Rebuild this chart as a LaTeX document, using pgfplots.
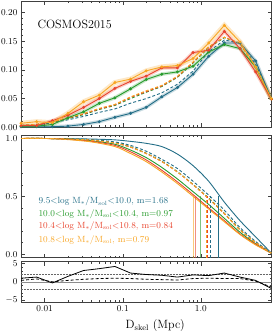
\documentclass[border=0pt]{standalone}
\usepackage{pgfplots}
\pgfplotsset{compat=1.18}
\definecolor{cteal}{RGB}{35,110,135}
\definecolor{cgreen}{RGB}{40,155,45}
\definecolor{cred}{RGB}{232,68,45}
\definecolor{corange}{RGB}{248,165,35}

\pgfplotstableread{
x        teal    green   red     orange  dteal  dgreen dred   dorange
0.005012 0.001   0.002   0.003   0.007   0.002  0.003  0.003  0.003
0.007943 0.001   0.002   0.003   0.0098  0.004  0.005  0.005  0.005
0.012589 0.001   0.005   0.0115  0.008   0.008  0.009  0.0095 0.010
0.019953 0.002   0.0167  0.021   0.0243  0.013  0.015  0.016  0.0167
0.031623 0.005   0.027   0.0347  0.0445  0.019  0.022  0.023  0.024
0.050119 0.0098  0.0417  0.050   0.056   0.026  0.031  0.032  0.033
0.079433 0.0174  0.0514  0.0677  0.078   0.032  0.038  0.039  0.040
0.125893 0.0243  0.0670  0.080   0.0839  0.042  0.050  0.052  0.053
0.199526 0.0347  0.0833  0.0891  0.0983  0.050  0.061  0.062  0.0636
0.316228 0.0531  0.0925  0.1035  0.1052  0.060  0.071  0.072  0.073
0.501187 0.0694  0.0965  0.1035  0.1076  0.075  0.087  0.088  0.089
0.794328 0.0925  0.1064  0.1302  0.1198  0.098  0.112  0.113  0.114
1.258925 0.1238  0.1312  0.1342  0.1469  0.132  0.139  0.140  0.140
1.995262 0.1469  0.1441  0.1672  0.1776  0.152  0.156  0.157  0.157
3.162278 0.1469  0.1371  0.1371  0.1486  0.147  0.146  0.146  0.146
5.011872 0.1156  0.1052  0.0965  0.1052  0.110  0.106  0.105  0.105
7.943282 0.0503  0.0491  0.0491  0.0503  0.050  0.050  0.050  0.050
}\toptab

\pgfplotstableread{
x        teal   green  red    orange dteal  dgreen dred   dorange
0.005012 1.000  1.000  1.000  1.000  1.000  1.000  1.000  1.000
0.010000 1.000  1.000  1.000  1.000  1.000  1.000  1.000  1.000
0.019953 0.998  0.995  0.993  0.990  0.997  0.996  0.995  0.995
0.039811 0.995  0.980  0.975  0.970  0.990  0.986  0.985  0.985
0.079433 0.988  0.950  0.940  0.930  0.970  0.962  0.960  0.960
0.125893 0.975  0.900  0.885  0.870  0.940  0.928  0.925  0.925
0.199526 0.958  0.835  0.815  0.800  0.890  0.873  0.870  0.870
0.316228 0.930  0.750  0.725  0.710  0.820  0.803  0.800  0.800
0.501187 0.865  0.650  0.625  0.610  0.740  0.713  0.710  0.710
0.794328 0.765  0.540  0.515  0.500  0.630  0.603  0.600  0.600
1.258925 0.630  0.430  0.400  0.390  0.510  0.485  0.480  0.480
1.995262 0.450  0.310  0.290  0.280  0.380  0.353  0.350  0.350
3.162278 0.290  0.190  0.175  0.170  0.230  0.213  0.210  0.210
5.011872 0.150  0.090  0.085  0.080  0.110  0.102  0.100  0.100
7.943282 0.010  0.010  0.010  0.010  0.010  0.010  0.010  0.010
}\cumtab

\pgfplotstableread{
x        solid  dashed
0.005012  1.0   0.4
0.007943  1.3   0.8
0.012589 -0.3   0.0
0.019953  1.5   0.4
0.031623  3.1   0.7
0.050119  3.6   0.9
0.079433  4.2   1.0
0.125893  2.4   0.9
0.199526  2.0   0.7
0.316228  1.8   0.6
0.501187  1.3   0.5
0.794328  1.9   0.9
1.258925  1.7   1.0
1.995262  2.4   0.9
3.162278  1.3   0.9
5.011872  0.4   0.2
7.943282 -1.8  -1.4
}\ratiotab

\pgfplotsset{
  myaxis/.style={
    scale only axis, width=250.5pt,
    xmin=0.005, xmax=8,
    tick align=inside,
    major tick length=4pt, minor tick length=2pt,
    axis line style={black!75},
    every tick/.style={black!75, line width=0.4pt},
    tick label style={font=\fontsize{9}{10}\selectfont},
    xtick={0.01,0.1,1},
  },
}
\tikzset{
  band/.style={line width=3.5pt, opacity=0.25},
  sline/.style={line width=0.9pt, mark=*, mark size=1pt},
  dline/.style={line width=0.9pt, dash pattern=on 3pt off 2pt},
}

\begin{document}
\begin{tikzpicture}
% ---------- top panel ----------
\begin{axis}[xmode=log, myaxis, at={(21pt,208.7pt)}, anchor=south west, height=126.3pt,
  ymin=0, ymax=0.22, ytick={0,0.05,0.10,0.15,0.20}, minor y tick num=4,
  yticklabel style={/pgf/number format/fixed, /pgf/number format/fixed zerofill, /pgf/number format/precision=2},
  xticklabels={}]
  \addplot[band, cteal] table[x=x, y=teal] {\toptab};
  \addplot[band, cgreen] table[x=x, y=green] {\toptab};
  \addplot[band, cred] table[x=x, y=red] {\toptab};
  \addplot[band, corange, line width=5pt] table[x=x, y=orange] {\toptab};
  \addplot[dline, cteal] table[x=x, y=dteal] {\toptab};
  \addplot[dline, cgreen] table[x=x, y=dgreen] {\toptab};
  \addplot[dline, cred] table[x=x, y=dred] {\toptab};
  \addplot[dline, corange] table[x=x, y=dorange] {\toptab};
  \addplot[sline, cteal] table[x=x, y=teal] {\toptab};
  \addplot[sline, cgreen] table[x=x, y=green] {\toptab};
  \addplot[sline, cred] table[x=x, y=red] {\toptab};
  \addplot[sline, corange] table[x=x, y=orange] {\toptab};
  \node[anchor=west, font=\fontsize{12}{14}\selectfont] at (rel axis cs:0.052,0.818) {COSMOS2015};
\end{axis}
% ---------- middle panel ----------
\begin{axis}[xmode=log, myaxis, at={(21pt,78.3pt)}, anchor=south west, height=122.7pt,
  ymin=-0.03, ymax=1.03, ytick={0,0.5,1}, minor y tick num=4,
  yticklabel style={/pgf/number format/fixed, /pgf/number format/fixed zerofill, /pgf/number format/precision=1},
  xticklabels={}]
  \addplot[cteal, line width=0.9pt, smooth] table[x=x, y=teal] {\cumtab};
  \addplot[cgreen, line width=0.9pt, smooth] table[x=x, y=green] {\cumtab};
  \addplot[cred, line width=0.9pt, smooth] table[x=x, y=red] {\cumtab};
  \addplot[corange, line width=0.9pt, smooth] table[x=x, y=orange] {\cumtab};
  \addplot[dline, cteal, smooth] table[x=x, y=dteal] {\cumtab};
  \addplot[dline, cgreen, smooth] table[x=x, y=dgreen] {\cumtab};
  \addplot[dline, cred, smooth] table[x=x, y=dred] {\cumtab};
  \addplot[dline, corange, smooth] table[x=x, y=dorange] {\cumtab};
  % medians
  \addplot[cteal, line width=0.7pt] coordinates {(1.68,-0.03) (1.68,0.5)};
  \addplot[cgreen, line width=0.7pt, opacity=0.6] coordinates {(0.97,-0.03) (0.97,0.5)};
  \addplot[cred, line width=0.7pt, opacity=0.6] coordinates {(0.84,-0.03) (0.84,0.5)};
  \addplot[corange, line width=0.7pt, opacity=0.6] coordinates {(0.79,-0.03) (0.79,0.5)};
  \addplot[cteal, line width=0.9pt, dash pattern=on 3pt off 2pt] coordinates {(1.32,-0.03) (1.32,0.5)};
  \addplot[cgreen, line width=0.9pt, dash pattern=on 3pt off 2pt] coordinates {(1.22,-0.03) (1.22,0.5)};
  \addplot[cred, line width=0.9pt, dash pattern=on 3pt off 2pt] coordinates {(1.20,-0.03) (1.20,0.5)};
  \addplot[corange, line width=0.9pt, dash pattern=on 3pt off 2pt] coordinates {(1.19,-0.03) (1.19,0.5)};
  \node[anchor=west, text=cteal, font=\fontsize{9}{10}\selectfont] at (rel axis cs:0.056,0.456) {9.5<log M$_*$/M$_{\rm sol}$<10.0, m=1.68};
  \node[anchor=west, text=cgreen, font=\fontsize{9}{10}\selectfont] at (rel axis cs:0.056,0.354) {10.0<log M$_*$/M$_{\rm sol}$<10.4, m=0.97};
  \node[anchor=west, text=cred, font=\fontsize{9}{10}\selectfont] at (rel axis cs:0.056,0.253) {10.4<log M$_*$/M$_{\rm sol}$<10.8, m=0.84};
  \node[anchor=west, text=corange, font=\fontsize{9}{10}\selectfont] at (rel axis cs:0.056,0.144) {10.8<log M$_*$/M$_{\rm sol}$, m=0.79};
\end{axis}
% ---------- bottom panel ----------
\begin{axis}[xmode=log, myaxis, at={(21pt,34pt)}, anchor=south west, height=40.3pt,
  ymin=-5.5, ymax=5.5, ytick={-5,0,5}, minor y tick num=4,
  xticklabels={0.01,0.1,1.0},
  xlabel={D$_{\rm skel}$ (Mpc)},
  xlabel style={font=\fontsize{12}{14}\selectfont, yshift=-1pt, xshift=9pt}]
  \addplot[black!45, line width=0.6pt] coordinates {(0.005,0) (8,0)};
  \addplot[black!60, densely dotted, line width=0.5pt] coordinates {(0.005,2) (8,2)};
  \addplot[black!60, densely dotted, line width=0.5pt] coordinates {(0.005,-2) (8,-2)};
  \addplot[black, line width=0.8pt] table[x=x, y=solid] {\ratiotab};
  \addplot[black, line width=0.8pt, dash pattern=on 3pt off 2pt] table[x=x, y=dashed] {\ratiotab};
\end{axis}
\pgfresetboundingbox
\path (0,0) rectangle (273pt,336pt);
\end{tikzpicture}
\end{document}
